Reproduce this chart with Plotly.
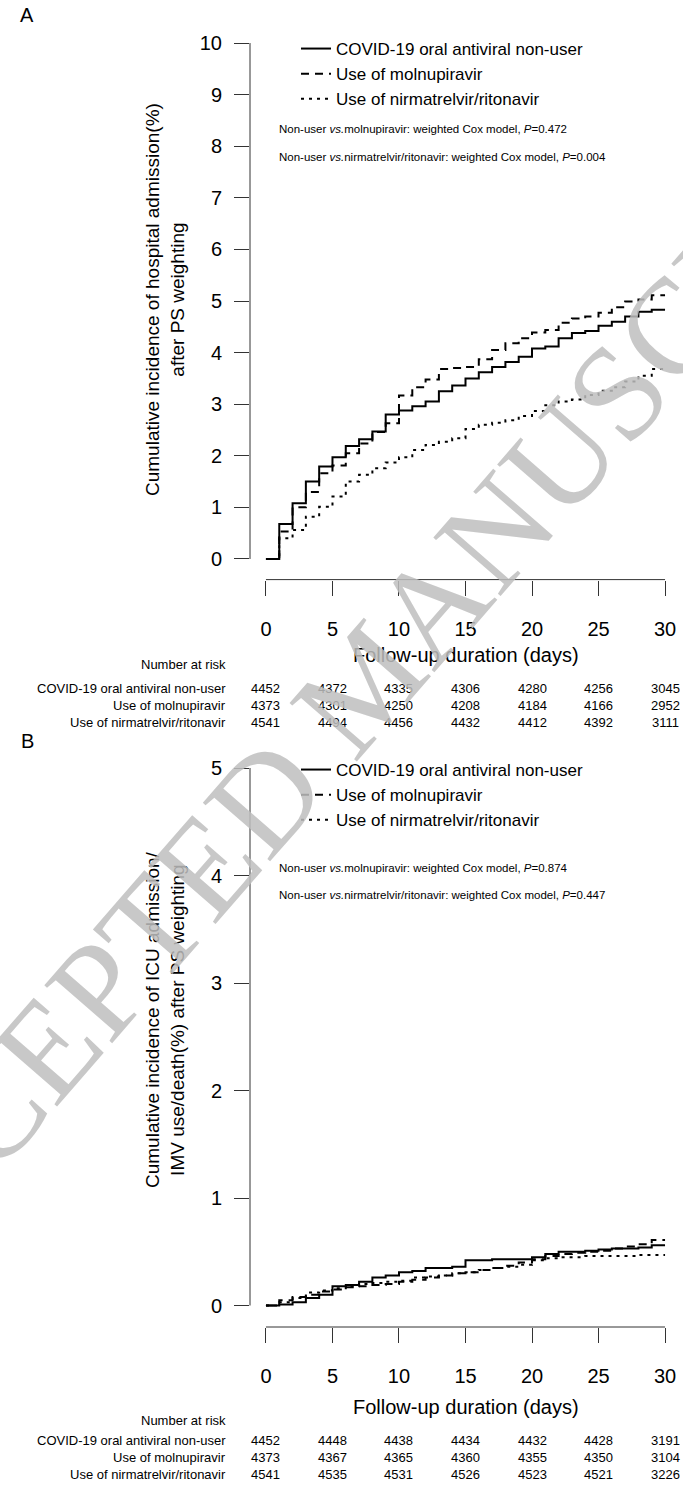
import plotly.graph_objects as go

# ---------------- data ----------------
days = list(range(0, 30))  # step start times (days)

# Panel A: cumulative incidence of hospital admission (%)
a_nonuser = [0, 0.68, 1.08, 1.50, 1.79, 1.97, 2.19, 2.32, 2.47, 2.80, 2.88, 2.96, 3.05, 3.25, 3.36,
             3.50, 3.62, 3.72, 3.82, 3.92, 4.08, 4.12, 4.28, 4.38, 4.42, 4.52, 4.60, 4.70, 4.79, 4.83]
a_molnu = [0, 0.53, 1.00, 1.30, 1.66, 1.81, 2.05, 2.24, 2.46, 2.63, 3.17, 3.33, 3.48, 3.68, 3.70,
           3.72, 3.87, 4.05, 4.18, 4.28, 4.39, 4.44, 4.58, 4.66, 4.70, 4.77, 4.88, 4.99, 5.03, 5.11]
a_nirma = [0, 0.40, 0.56, 0.82, 1.01, 1.21, 1.50, 1.63, 1.76, 1.87, 1.97, 2.11, 2.21, 2.27, 2.34,
           2.52, 2.60, 2.64, 2.69, 2.77, 2.87, 2.98, 3.05, 3.09, 3.18, 3.26, 3.33, 3.44, 3.55, 3.68]

# Panel B: cumulative incidence of ICU admission/IMV use/death (%)
b_nonuser = [0, 0.01, 0.03, 0.07, 0.10, 0.18, 0.19, 0.22, 0.26, 0.28, 0.31, 0.32, 0.35, 0.35, 0.36,
             0.42, 0.42, 0.43, 0.43, 0.43, 0.45, 0.48, 0.50, 0.50, 0.51, 0.52, 0.53, 0.53, 0.54, 0.56]
b_molnu = [0, 0.05, 0.08, 0.10, 0.13, 0.15, 0.17, 0.18, 0.19, 0.20, 0.22, 0.24, 0.26, 0.28, 0.30,
           0.31, 0.33, 0.35, 0.37, 0.40, 0.43, 0.46, 0.48, 0.49, 0.50, 0.51, 0.53, 0.55, 0.57, 0.61]
b_nirma = [0, 0.03, 0.07, 0.12, 0.14, 0.16, 0.18, 0.20, 0.21, 0.22, 0.23, 0.26, 0.27, 0.28, 0.30,
           0.31, 0.33, 0.35, 0.36, 0.38, 0.42, 0.44, 0.45, 0.45, 0.46, 0.46, 0.46, 0.46, 0.47, 0.47]

series_names = ["COVID-19 oral antiviral non-user", "Use of molnupiravir", "Use of nirmatrelvir/ritonavir"]
risk_times = [0, 5, 10, 15, 20, 25, 30]
a_risk = [[4452, 4372, 4335, 4306, 4280, 4256, 3045],
          [4373, 4301, 4250, 4208, 4184, 4166, 2952],
          [4541, 4494, 4456, 4432, 4412, 4392, 3111]]
b_risk = [[4452, 4448, 4438, 4434, 4432, 4428, 3191],
          [4373, 4367, 4365, 4360, 4355, 4350, 3104],
          [4541, 4535, 4531, 4526, 4523, 4521, 3226]]
a_pvals = ["0.472", "0.004"]
b_pvals = ["0.874", "0.447"]
x_ticks = [0, 5, 10, 15, 20, 25, 30]
a_yticks = list(range(0, 11))
b_yticks = list(range(0, 6))

# ---------------- layout helpers ----------------
W, H = 683, 1488
FONT = "Liberation Sans, Arial, Helvetica, sans-serif"
INK = "#000000"
AX = "#333333"

def px(x):
    return x / W

def py(y):
    return 1 - y / H

dashes = ["solid", "8px,6px", "3px,5px"]

fig = go.Figure()

panels = [
    dict(xa="x", ya="y", xname="xaxis", yname="yaxis", legend="legend",
         series=[a_nonuser, a_molnu, a_nirma], ymax=10, yticks=a_yticks,
         ytop=22.4, ybot=579.6, risk=a_risk, pvals=a_pvals,
         ytitle="Cumulative incidence of hospital admission(%)<br>after PS weighting",
         ytitle_y=300,
         letter="A", letter_y=15, leg_y=31, ann_y=[129, 157],
         xt_y=655, nar_y=664, rows_y=[688, 705, 722]),
    dict(xa="x2", ya="y2", xname="xaxis2", yname="yaxis2", legend="legend2",
         series=[b_nonuser, b_molnu, b_nirma], ymax=5, yticks=b_yticks,
         ytop=746.5, ybot=1327, risk=b_risk, pvals=b_pvals,
         ytitle="Cumulative incidence of ICU admission/<br>IMV use/death(%) after PS weighting",
         ytitle_y=1020,
         letter="B", letter_y=741, leg_y=752, ann_y=[868, 895],
         xt_y=1407, nar_y=1420, rows_y=[1440, 1457, 1474]),
]

for p in panels:
    for i, (name, vals) in enumerate(zip(series_names, p["series"])):
        fig.add_trace(go.Scatter(
            x=days + [30], y=vals + [vals[-1]], mode="lines", line_shape="hv",
            line=dict(color=INK, width=2, dash=dashes[i]), name=name,
            xaxis=p["xa"], yaxis=p["ya"], legend=p["legend"], hoverinfo="skip"))

    ymax = p["ymax"]
    ext = ymax * 0.04
    fig.update_layout(**{
        p["xname"]: dict(domain=[px(250), px(681)], range=[-1.2, 31.2], anchor=p["ya"],
                         tickvals=x_ticks, ticks="outside", ticklen=15, tickwidth=1, tickcolor=AX,
                         showline=False, showgrid=False, zeroline=False, automargin=False,
                         tickfont=dict(family=FONT, size=20, color=INK), ticklabelstandoff=16),
        p["yname"]: dict(domain=[py(p["ybot"]), py(p["ytop"])], range=[-ext, ymax + ext], anchor=p["xa"],
                         tickvals=p["yticks"], ticks="outside", ticklen=15, tickwidth=1, tickcolor=AX,
                         showline=False, showgrid=False, zeroline=False, automargin=False,
                         tickfont=dict(family=FONT, size=20, color=INK), ticklabelstandoff=8),
    })
    # R-style axis lines spanning only the tick range
    fig.add_shape(type="line", xref=p["xa"], yref=p["ya"] + " domain", x0=0, x1=30, y0=0, y1=0,
                  line=dict(color=AX, width=1))
    fig.add_shape(type="line", xref=p["xa"] + " domain", yref=p["ya"], x0=0, x1=0, y0=0, y1=ymax,
                  line=dict(color=AX, width=1))

    def note(text, x, y, size, xanchor="center", xref="paper", **kw):
        fig.add_annotation(text=text, xref=xref, yref="paper", x=x, y=y, xanchor=xanchor,
                           yanchor="middle", showarrow=False,
                           font=dict(family=FONT, size=size, color=INK), **kw)

    # panel letter
    note(p["letter"], px(27), py(p["letter_y"]), 20)
    # y title
    note(p["ytitle"], px(165), py(p["ytitle_y"]), 19, textangle=-90)
    # x title
    note("Follow-up duration (days)", 15, py(p["xt_y"]), 20, xref=p["xa"])
    # Cox annotations
    comps = ["Non-user <i>vs.</i>molnupiravir: weighted Cox model, <i>P</i>=",
             "Non-user <i>vs.</i>nirmatrelvir/ritonavir: weighted Cox model, <i>P</i>="]
    for txt, pv, yy in zip(comps, p["pvals"], p["ann_y"]):
        note(txt + pv, px(277), py(yy), 11.5, xanchor="left")
    # number at risk table
    note("Number at risk", px(228), py(p["nar_y"]), 13, xanchor="right")
    for name, row, yy in zip(series_names, p["risk"], p["rows_y"]):
        note(name, px(228), py(yy), 13, xanchor="right")
        for t, n in zip(risk_times, row):
            note(str(n), t, py(yy), 13, xref=p["xa"])

legend_common = dict(font=dict(family=FONT, size=17, color=INK), bgcolor="rgba(0,0,0,0)",
                     xanchor="left", yanchor="top", itemwidth=30, tracegroupgap=0)
fig.update_layout(
    width=W, height=H, margin=dict(l=0, r=0, t=0, b=0, autoexpand=False),
    paper_bgcolor="white", plot_bgcolor="white",
    legend=dict(x=px(296), y=py(panels[0]["leg_y"]), **legend_common),
    legend2=dict(x=px(296), y=py(panels[1]["leg_y"]), **legend_common),
)

# watermark
fig.add_annotation(text="ACCEPTED MANUSCRIPT", xref="paper", yref="paper", x=px(365), y=py(682),
                   xanchor="center", yanchor="middle", textangle=-49, showarrow=False,
                   font=dict(family="Liberation Serif, Times New Roman, serif", size=136,
                             color="rgba(190,190,190,0.85)"))

# remove the browser's default page margin so the figure fills the window exactly
fig.write_html("out.html", config={"displayModeBar": False},
               post_script="document.body.style.margin='0px';document.body.style.overflow='hidden';")
